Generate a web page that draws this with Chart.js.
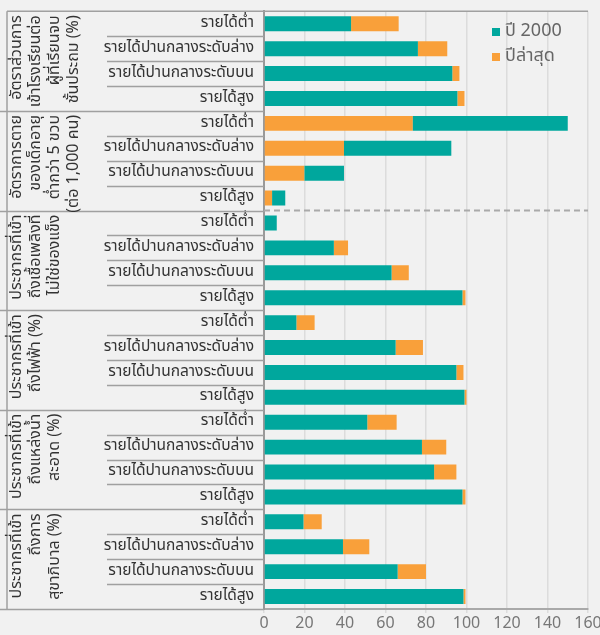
<!DOCTYPE html>
<html>
<head>
<meta charset="utf-8">
<script src="https://cdn.jsdelivr.net/npm/chart.js@4.4.1/dist/chart.umd.min.js"></script>
<style>
    html, body { margin: 0; padding: 0; background: #f1f1f1; }
    #wrap { width: 600px; height: 635px; }
</style>
</head>
<body>
<div id="wrap"><canvas id="barChart" width="600" height="635"></canvas></div>
<script>
// Income levels (repeated for every indicator group)
const incomeLevels = ["รายได้ต่ำ", "รายได้ปานกลางระดับล่าง", "รายได้ปานกลางระดับบน", "รายได้สูง"];

// Indicator groups, each label split into the lines shown on the left
const groupLabels = [
    ["อัตราส่วนการ", "เข้าโรงเรียนต่อ", "ผู้ที่เรียนจบ", "ชั้นประถม (%)"],
    ["อัตราการตาย", "ของเด็กอายุ", "ต่ำกว่า 5 ขวบ", "(ต่อ 1,000 คน)"],
    ["ประชากรที่เข้า", "ถึงเชื้อเพลิงที่", "ไม่ใช่ของแข็ง"],
    ["ประชากรที่เข้า", "ถึงไฟฟ้า (%)"],
    ["ประชากรที่เข้า", "ถึงแหล่งน้ำ", "สะอาด (%)"],
    ["ประชากรที่เข้า", "ถึงการ", "สุขาภิบาล (%)"],
];

const seriesLabels = ["ปี 2000", "ปีล่าสุด"];

// values per row, 4 income levels x 6 groups
const year2000 = [43, 76, 93, 95.5, 150, 92.5, 39.5, 10.5, 6.3, 34.5, 63, 98, 16, 65, 95, 99, 51, 78, 84, 98, 19.5, 39, 66, 98.5];
const latest = [66.5, 90.5, 96.5, 99, 73.5, 39.5, 20, 4, null, 41.5, 71.5, 99.5, 25, 78.5, 98.5, 100, 65.5, 90, 95, 99.5, 28.5, 52, 80, 99.5];

const xTicks = [0, 20, 40, 60, 80, 100, 120, 140, 160];

const GREEN = "#00a79d";
const ORANGE = "#f9a03a";
const FONT = "'Noto Sans Thai', 'Noto Sans', sans-serif";

// Row labels
const labels = [];
groupLabels.forEach(() => incomeLevels.forEach(l => labels.push(l)));

// The shorter bar sits in front, so use floating bars: the longer one starts where the shorter ends
const greenData = year2000.map((v, i) => {
    const l = latest[i];
    return [(l != null && l < v) ? l : 0, v];
});
const orangeData = latest.map((l, i) => {
    if (l == null) return null;
    const v = year2000[i];
    return [(v < l) ? v : 0, l];
});

// Left column: group labels, table lines, legend and the dashed divider
const tablePlugin = {
    id: "table",
    afterDraw(chart) {
        const ctx = chart.ctx;
        const y = chart.scales.y;
        const area = chart.chartArea;
        const leftX = 7;
        const rowX = 107;
        const edge = (i) => y.getPixelForValue(i - 0.5);

        ctx.save();
        ctx.strokeStyle = "#a0a0a0";
        ctx.lineWidth = 1.5;

        // top border and left border
        ctx.beginPath();
        ctx.moveTo(leftX, area.top);
        ctx.lineTo(area.right, area.top);
        ctx.moveTo(leftX, area.top);
        ctx.lineTo(leftX, area.bottom);
        ctx.stroke();

        for (let i = 1; i <= labels.length; i++) {
            const py = Math.round(edge(i)) + 0.5;
            ctx.beginPath();
            ctx.moveTo(i % 4 === 0 ? 0 : rowX, py);
            ctx.lineTo(area.left, py);
            ctx.stroke();
        }

        // dashed divider between the first two groups and the rest
        ctx.setLineDash([6, 4]);
        ctx.lineWidth = 2;
        ctx.strokeStyle = "#aaaaaa";
        ctx.beginPath();
        ctx.moveTo(area.left, edge(8));
        ctx.lineTo(area.right, edge(8));
        ctx.stroke();
        ctx.setLineDash([]);

        // rotated group labels
        ctx.fillStyle = "#333333";
        ctx.font = "16px " + FONT;
        ctx.textAlign = "right";
        ctx.textBaseline = "middle";
        groupLabels.forEach((lines, g) => {
            const top = edge(g * 4) + 4;
            lines.forEach((line, k) => {
                ctx.save();
                ctx.translate(18 + k * 19, top);
                ctx.rotate(-Math.PI / 2);
                ctx.fillText(line, 0, 0);
                ctx.restore();
            });
        });

        // legend
        ctx.font = "18px " + FONT;
        ctx.textAlign = "left";
        chart.data.datasets.forEach((ds, i) => {
            const ly = 32 + i * 25;
            ctx.fillStyle = ds.backgroundColor;
            ctx.fillRect(492, ly - 4, 8, 8);
            ctx.fillStyle = "#666666";
            ctx.fillText(ds.label, 505, ly);
        });
        ctx.restore();
    }
};

const config = {
    type: "bar",
    data: {
        labels: labels,
        datasets: [
            {
                label: seriesLabels[0],
                data: greenData,
                backgroundColor: GREEN,
                grouped: false,
                barPercentage: 0.6,
                categoryPercentage: 1,
            },
            {
                label: seriesLabels[1],
                data: orangeData,
                backgroundColor: ORANGE,
                grouped: false,
                barPercentage: 0.6,
                categoryPercentage: 1,
            },
        ],
    },
    options: {
        indexAxis: "y",
        responsive: false,
        animation: false,
        layout: { padding: { top: 9, right: 12, left: 0, bottom: 0 } },
        plugins: { legend: { display: false }, tooltip: { enabled: false } },
        scales: {
            x: {
                min: 0,
                max: 160,
                afterBuildTicks: (scale) => { scale.ticks = xTicks.map(v => ({ value: v })); },
                afterFit: (scale) => {
                    scale.height = 26;
                    scale.paddingRight = 0;
                    scale.paddingLeft = 0;
                },
                grid: { color: "#dcdcdc", lineWidth: 1.5, tickLength: 4 },
                border: { color: "#a9a9a9", width: 2 },
                ticks: { color: "#777777", font: { family: FONT, size: 16 }, padding: 2, maxRotation: 0 },
            },
            y: {
                afterFit: (scale) => { scale.width = 264; },
                grid: { display: false },
                border: { color: "#999999", width: 2 },
                ticks: { color: "#333333", font: { family: FONT, size: 15.5 }, padding: 2 },
            },
        },
    },
    plugins: [tablePlugin],
};

new Chart(document.getElementById("barChart").getContext("2d"), config);
</script>
</body>
</html>
